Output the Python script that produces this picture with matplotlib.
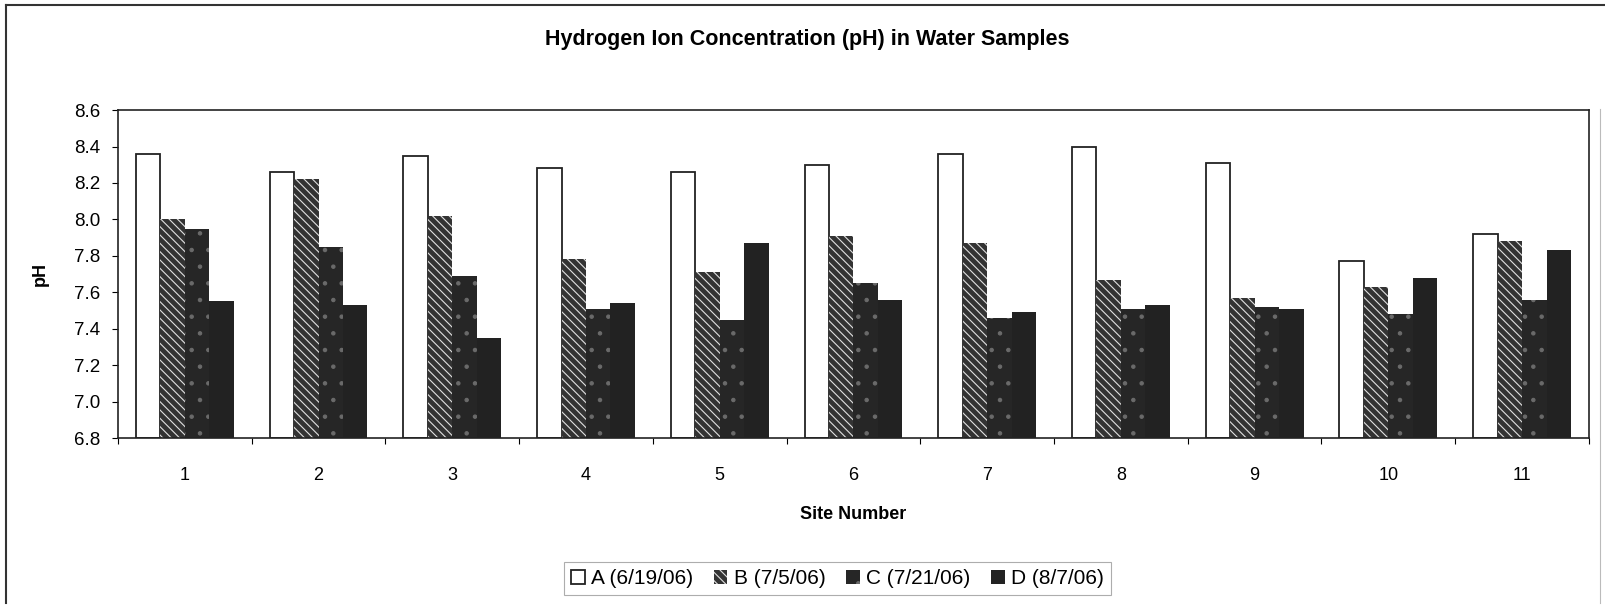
import matplotlib.pyplot as plt
import matplotlib.lines as mlines
import numpy as np

plt.rcParams['font.family'] = ['Liberation Sans', 'DejaVu Sans']
plt.rcParams['hatch.linewidth'] = 0.8

sites = ['1', '2', '3', '4', '5', '6', '7', '8', '9', '10', '11']
series = ['A (6/19/06)', 'B (7/5/06)', 'C (7/21/06)', 'D (8/7/06)']

ph_a = [8.36, 8.26, 8.35, 8.28, 8.26, 8.30, 8.36, 8.40, 8.31, 7.77, 7.92]
ph_b = [8.00, 8.22, 8.02, 7.78, 7.71, 7.91, 7.87, 7.67, 7.57, 7.63, 7.88]
ph_c = [7.95, 7.85, 7.69, 7.51, 7.45, 7.65, 7.46, 7.51, 7.52, 7.48, 7.56]
ph_d = [7.55, 7.53, 7.35, 7.54, 7.87, 7.56, 7.49, 7.53, 7.51, 7.68, 7.83]

y_ticks = [6.8, 7.0, 7.2, 7.4, 7.6, 7.8, 8.0, 8.2, 8.4, 8.6]

# fill / hatch per series (black & white print look)
styles = [
    dict(facecolor='white', edgecolor='#222222', hatch=None, lw=1.3),
    dict(facecolor='#333333', edgecolor='#e0e0e0', hatch='\\\\\\\\', lw=0),
    dict(facecolor='#262626', edgecolor='#6a6a6a', hatch='.', lw=0),
    dict(facecolor='#222222', edgecolor='#222222', hatch=None, lw=0),
]

fig = plt.figure(figsize=(16.05, 6.05), dpi=100)
ax = fig.add_axes([0.0735, 0.276, 0.9165, 0.542])

x = np.arange(1, len(sites) + 1)
width = 0.183
data = [ph_a, ph_b, ph_c, ph_d]
bars = []
for i, vals in enumerate(data):
    st = styles[i]
    b = ax.bar(x + (i - 1.5) * width, np.array(vals) - 6.8, width, bottom=6.8,
               color=st['facecolor'], edgecolor=st['edgecolor'],
               hatch=st['hatch'], linewidth=st['lw'], label=series[i], zorder=2)
    bars.append(b)

ax.set_ylim(6.8, 8.6)
ax.set_xlim(0.5, len(sites) + 0.5)
ax.set_yticks(y_ticks)
ax.set_yticklabels([f'{v:.1f}' for v in y_ticks])
ax.set_xticks(x)
ax.set_xticklabels(sites)
ax.set_xticks(np.arange(0.5, len(sites) + 1), minor=True)
ax.tick_params(axis='x', which='major', length=0, pad=21, labelsize=13)
ax.tick_params(axis='x', which='minor', length=4, width=0.8, direction='out')
ax.tick_params(axis='y', length=4, width=0.8, direction='out', pad=9, labelsize=13.5)
for sp in ax.spines.values():
    sp.set_linewidth(1.2)
    sp.set_color('#222222')

ax.set_ylabel('pH', fontsize=13, fontweight='bold', labelpad=18)
ax.set_xlabel('Site Number', fontsize=13, fontweight='bold', labelpad=16)

fig.text(0.503, 0.934, 'Hydrogen Ion Concentration (pH) in Water Samples',
         ha='center', va='center', fontsize=15.5, fontweight='bold')

leg = fig.legend(handles=bars, labels=series, loc='center', bbox_to_anchor=(0.5217, 0.044),
                 ncol=4, fontsize=15, handlelength=0.65, handleheight=0.65,
                 handletextpad=0.3, columnspacing=1.0, fancybox=False,
                 borderpad=0.35, frameon=True)
leg.get_frame().set_edgecolor('#999999')
leg.get_frame().set_linewidth(0.8)

# outer chart border
fig.add_artist(mlines.Line2D([0.004, 0.004], [0.003, 0.992], color='#333333', lw=1.5))
fig.add_artist(mlines.Line2D([0.004, 1.0], [0.992, 0.992], color='#333333', lw=1.5))
fig.add_artist(mlines.Line2D([0.997, 0.997], [0.003, 0.82], color='#bbbbbb', lw=0.8))

fig.savefig('out.png', dpi=100)
